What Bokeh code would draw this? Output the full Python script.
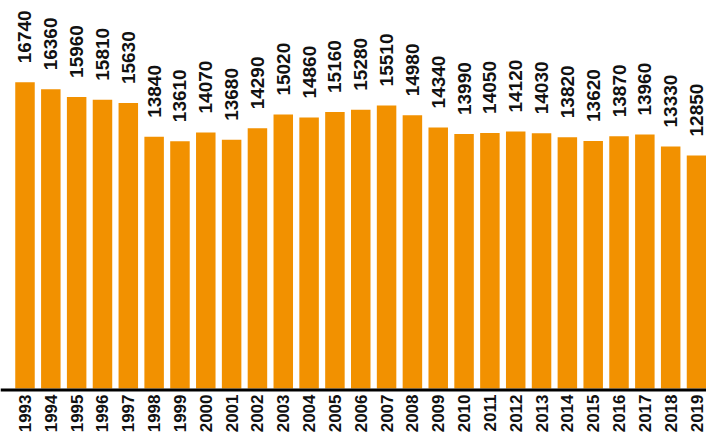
import math
from bokeh.plotting import figure
from bokeh.models import ColumnDataSource, Range1d, Span
from bokeh.core.properties import value
from bokeh.embed import file_html
from bokeh.resources import INLINE

years = ["1993", "1994", "1995", "1996", "1997", "1998", "1999", "2000", "2001",
         "2002", "2003", "2004", "2005", "2006", "2007", "2008", "2009", "2010",
         "2011", "2012", "2013", "2014", "2015", "2016", "2017", "2018", "2019"]
values = [16740, 16360, 15960, 15810, 15630, 13840, 13610, 14070, 13680,
          14290, 15020, 14860, 15160, 15280, 15510, 14980, 14340, 13990,
          14050, 14120, 14030, 13820, 13620, 13870, 13960, 13330, 12850]

BASE = 482
xs = list(range(len(years)))
src = ColumnDataSource(dict(x=xs, v=values, lbl=[str(v) for v in values],
                            yr=years, base=[BASE] * len(xs)))

p = figure(width=706, height=435, output_backend="svg", toolbar_location=None,
           x_range=Range1d(-0.9485, 26.387), y_range=Range1d(-2013, 21077),
           min_border_left=0, min_border_right=0, min_border_top=0, min_border_bottom=0)

p.vbar(x="x", top="v", bottom="base", width=0.755, source=src,
       fill_color="#F29100", line_color=None)
p.text(x="x", y="v", text="lbl", source=src, angle=math.pi / 2, y_offset=-19,
       text_align="left", text_baseline="middle", text_font=value("Liberation Sans"),
       text_font_style="bold", text_font_size="19px", text_color="#111111")
p.text(x="x", y="base", text="yr", source=src, angle=math.pi / 2, y_offset=6,
       text_align="right", text_baseline="middle", text_font=value("Liberation Sans"),
       text_font_style="bold", text_font_size="17px", text_color="#111111")
p.add_layout(Span(location=400, dimension="width", line_color="black", line_width=3))

p.xgrid.visible = False
p.ygrid.visible = False
p.xaxis.visible = False
p.yaxis.visible = False
p.outline_line_color = None
p.background_fill_color = "white"

open("out.html", "w").write(file_html(p, INLINE))
